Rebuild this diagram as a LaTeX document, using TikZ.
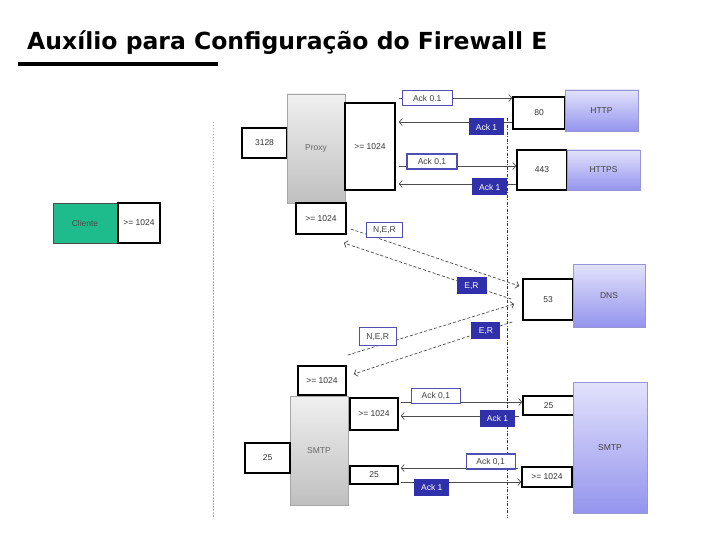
\documentclass[tikz,border=0pt]{standalone}
\usepackage{fontspec}
\setmainfont{Liberation Sans}
\newfontfamily\titlefont{DejaVu Sans}
\usetikzlibrary{arrows.meta, calc}
\definecolor{cligreen}{RGB}{30,188,140}
\definecolor{lblblue}{RGB}{80,80,180}
\definecolor{darkblue}{RGB}{48,48,170}
\definecolor{purtop}{RGB}{226,226,252}
\definecolor{purbot}{RGB}{148,148,238}
\tikzset{FireWall/.style={
    x=1pt, y=-1pt,
    every node/.style = {font=\fontsize{8.5}{10}\selectfont, inner sep=0pt, align=center},
    port/.style = {draw, line width=1.6pt, fill=white, text=black!80},
    host/.style = {draw=gray!70, fill=gray, top color=gray!12, bottom color=gray!50, text=black!60},
    server/.style = {draw=lblblue!60, top color=purtop, bottom color=purbot, text=black!75},
    lbl/.style = {draw=lblblue, solid, line width=1.2pt, fill=white, text=black!75, minimum height=15pt, minimum width=50pt},
    dlbl/.style = {fill=darkblue, text=white, minimum height=17pt, minimum width=35pt},
    conn/.style = {draw=black!70, line width=0.7pt, -{Straight Barb[length=3pt,width=7pt]}},
    dconn/.style = {conn, dash pattern=on 3pt off 2pt}
}}

\begin{document}
\begin{tikzpicture}[FireWall]
    \useasboundingbox (0,0) rectangle (720,540);

    % titulo
    \node [anchor=base west, font=\titlefont\fontsize{23.5}{28}\selectfont\bfseries] (titulo) at (27,50) {Auxílio para Configuração do Firewall E};
    \draw [line width=4pt] (18,64) -- (218,64);

    % linhas do firewall
    \coordinate (fwAt) at (213,122);
    \coordinate (fwAb) at (213,518);
    \coordinate (fwBt) at (507,118);
    \coordinate (fwBb) at (507,518);
    \draw [gray!60, line width=0.6pt, dash pattern=on 1.5pt off 1.5pt] (fwAt) -- (fwAb);
    \draw [black!80, line width=0.6pt, dash pattern=on 3pt off 1.5pt on 1pt off 1.5pt] (fwBt) -- (fwBb);

    % cliente
    \node [draw=black!70, fill=cligreen, text=black!70, minimum width=64pt, minimum height=40pt] (cli) at (85,223) {Cliente};
    \node [port, minimum width=42pt, minimum height=40pt] (cport) at (139,223) {>= 1024};

    % proxy
    \node [port, minimum width=45pt, minimum height=30pt] (p3128) at (264.5,143) {3128};
    \node [host, minimum width=58pt, minimum height=109pt] (proxy) at (316,148.5) {Proxy};
    \node [port, minimum width=50pt, minimum height=87pt] (pout) at (370,146.5) {>= 1024};
    \node [port, minimum width=50pt, minimum height=31pt] (pdns) at (321,218.5) {>= 1024};

    % servidores web
    \node [port, minimum width=52pt, minimum height=32pt] (p80) at (539,113) {80};
    \node [server, minimum width=73pt, minimum height=41pt] (http) at (601.5,110.5) {HTTP};
    \node [port, minimum width=50pt, minimum height=40pt] (p443) at (542,170) {443};
    \node [server, minimum width=73pt, minimum height=40pt] (https) at (603.5,170) {HTTPS};

    % dns
    \node [port, minimum width=50pt, minimum height=41pt] (p53) at (548,299.5) {53};
    \node [server, minimum width=72pt, minimum height=63pt] (dns) at (609,295.5) {DNS};

    % smtp
    \node [port, minimum width=48pt, minimum height=29pt] (sdns) at (322,380.5) {>= 1024};
    \node [host, minimum width=58pt, minimum height=109pt] (smtp) at (319,450.5) {SMTP};
    \node [port, minimum width=45pt, minimum height=30pt] (s25) at (267.5,458) {25};
    \node [port, minimum width=48pt, minimum height=32pt] (sout) at (374,414) {>= 1024};
    \node [port, minimum width=48pt, minimum height=18pt] (sin) at (374,475) {25};
    \node [port, minimum width=51pt, minimum height=19pt] (r25) at (548.5,405.5) {25};
    \node [port, minimum width=50pt, minimum height=20pt] (r1024) at (547,477) {>= 1024};
    \node [server, minimum width=74pt, minimum height=131pt] (rsmtp) at (610,447.5) {SMTP};

    % http e https
    \draw [conn, shorten <=3pt] (pout.east |- 0,98) -- node [lbl, pos=0.27] (a01h) {Ack 0.1} (p80.west |- 0,98);
    \draw [conn, shorten >=3pt] (p80.west |- 0,122) -- node [dlbl, pos=0.22, yshift=-5pt] (a1h) {Ack 1} (pout.east |- 0,122);
    \draw [conn, shorten <=3pt] (pout.east |- 0,166) -- node [lbl, pos=0.30, yshift=4.5pt] (a01s) {Ack 0,1} (p443.west |- 0,166);
    \draw [conn, shorten >=3pt] (p443.west |- 0,184) -- node [dlbl, pos=0.22, yshift=-3pt] (a1s) {Ack 1} (pout.east |- 0,184);

    % dns
    \draw [dconn] ($(pdns.east)+(4,10.5)$) -- node [lbl, pos=0.2, yshift=10pt, minimum width=36pt] (ner1) {N,E,R} ($(p53.west)+(-3,-13.5)$);
    \draw [dconn] ($(p53.west)+(-11,-0.5)$) -- node [dlbl, pos=0.237, minimum width=30pt] (er1) {E,R} ($(pdns.east)+(-3,24.5)$);
    \draw [dconn] ($(sdns.east)+(1,-25.5)$) -- node [lbl, pos=0.18, yshift=9pt, minimum width=37pt, minimum height=18pt] (ner2) {N,E,R} ($(p53.west)+(-8,4.5)$);
    \draw [dconn] ($(p53.west)+(-10,22.5)$) -- node [dlbl, pos=0.166, minimum width=29pt] (er2) {E,R} ($(sdns.east)+(7,-6.5)$);

    % smtp
    \draw [conn, shorten <=2pt] (sout.east |- 0,402) -- node [lbl, pos=0.30, yshift=6pt, minimum width=49pt] (a01m) {Ack 0,1} (r25.west |- 0,402);
    \draw [conn, shorten >=2pt, shorten <=3pt] (r25.west |- 0,416) -- node [dlbl, pos=0.2, yshift=-2.5pt] (a1m) {Ack 1} (sout.east |- 0,416);
    \draw [conn, shorten >=2pt, shorten <=3pt] (r1024.west |- 0,468) -- node [lbl, pos=0.25, yshift=6.5pt, minimum width=49pt] (a01r) {Ack 0,1} (sin.east |- 0,468);
    \draw [conn, shorten <=2pt] (sin.east |- 0,482) -- node [dlbl, pos=0.27, yshift=-5pt] (a1r) {Ack 1} (r1024.west |- 0,482);
\end{tikzpicture}
\end{document}
